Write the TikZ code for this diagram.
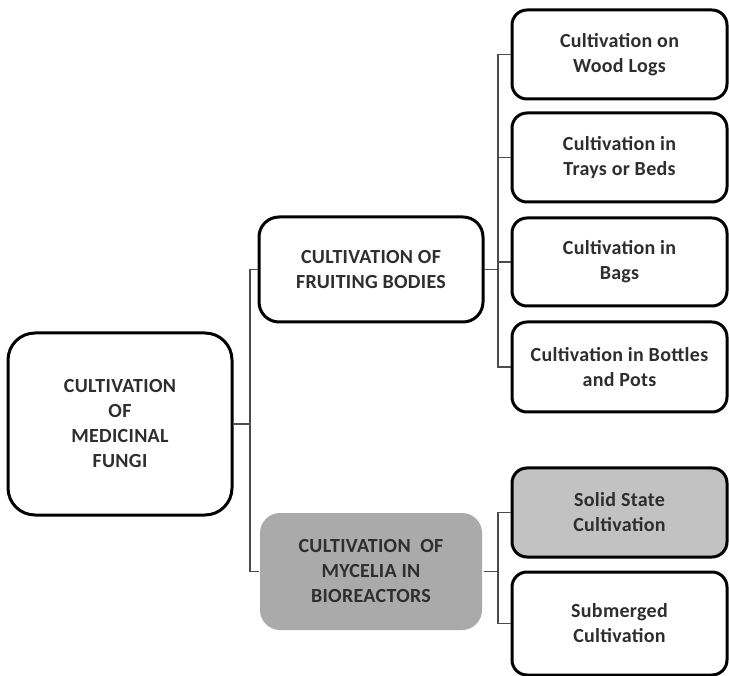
\documentclass[tikz,border=0pt]{standalone}
\usepackage{fontspec}
\setmainfont{Carlito}[LetterSpace=1.5]
\definecolor{darkfill}{HTML}{AAAAAA}
\definecolor{lightfill}{HTML}{C2C2C2}
\begin{document}
\begin{tikzpicture}[x=1pt,y=-1pt,
  box/.style={draw=black, line width=3pt, rounded corners=15pt, align=center,
    font=\fontsize{20}{25}\selectfont\bfseries, text=black!82, inner sep=0pt, fill=white},
  leaf/.style={box, minimum width=215pt},
  link/.style={draw=black!70, line width=1.3pt}]
\useasboundingbox (0,0) rectangle (729,676);
\node[box, rounded corners=27pt, minimum width=224pt, minimum height=182pt] (root) at (120,424) {CULTIVATION\\OF\\MEDICINAL\\FUNGI};
\node[box, rounded corners=20pt, minimum width=224pt, minimum height=105pt] (fruit) at (371,269.5) {CULTIVATION OF\\FRUITING BODIES};
\node[box, draw=none, fill=darkfill, rounded corners=20pt, minimum width=222pt, minimum height=117pt] (myc) at (371,571.5) {CULTIVATION\ \ OF\\MYCELIA IN\\BIOREACTORS};
\node[leaf, minimum height=89pt] (b1) at (619.5,54.5) {Cultivation on\\Wood Logs};
\node[leaf, minimum height=89pt] (b2) at (619.5,157.5) {Cultivation in\\Trays or Beds};
\node[leaf, minimum height=88pt] (b3) at (619.5,262) {Cultivation in\\Bags};
\node[leaf, minimum height=90pt] (b4) at (619.5,367) {Cultivation in Bottles\\and Pots};
\node[leaf, fill=lightfill, minimum height=89pt] (solid) at (619.5,512.5) {Solid State\\Cultivation};
\node[leaf, minimum height=103pt] (sub) at (619.5,623.5) {Submerged\\Cultivation};
\coordinate (t1) at (250,0);
\coordinate (t2) at (498,0);
\draw[link] (root.east) -- (t1 |- root.east);
\draw[link] (fruit.west) -| (t1 |- myc.west) -- (myc.west);
\draw[link] (fruit.east) -- (t2 |- fruit.east);
\draw[link] (b1.west) -| (t2 |- b4.west) -- (b4.west);
\draw[link] (t2 |- b2.west) -- (b2.west);
\draw[link] (t2 |- b3.west) -- (b3.west);
\draw[link] (myc.east) -- (t2 |- myc.east);
\draw[link] (solid.west) -| (t2 |- sub.west) -- (sub.west);
\end{tikzpicture}
\end{document}
